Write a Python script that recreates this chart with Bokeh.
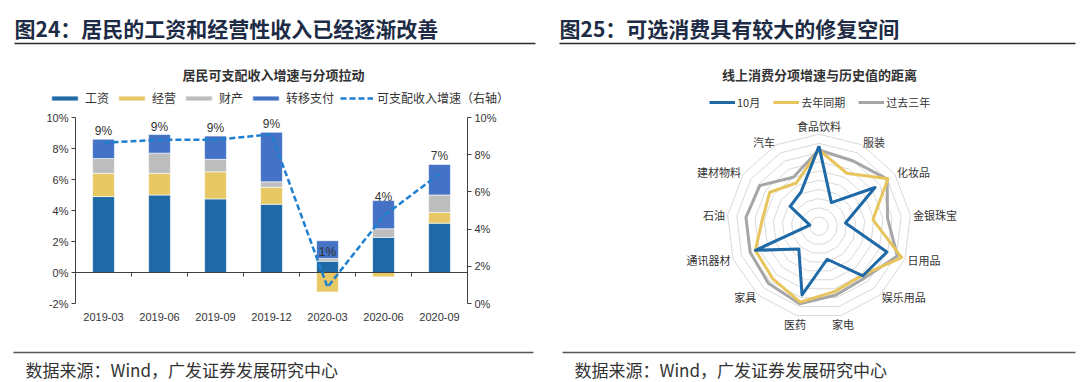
import numpy as np
from bokeh.plotting import figure
from bokeh.models import (ColumnDataSource, Range1d, LinearAxis, FixedTicker, Label,
                          BoxAnnotation, Legend, LegendItem)
from bokeh.layouts import row
from bokeh.embed import file_html
from bokeh.resources import INLINE
from bokeh.core.properties import value

# ---------------- data: figure 24 ----------------
quarters = ["2019-03", "2019-06", "2019-09", "2019-12", "2020-03", "2020-06", "2020-09"]
wages = [4.9, 5.0, 4.75, 4.4, 0.73, 2.27, 3.18]
business = [1.5, 1.4, 1.75, 1.1, -1.26, -0.28, 0.69]
property_income = [0.95, 1.3, 0.8, 0.35, 0.17, 0.55, 1.13]
transfers = [1.25, 1.2, 1.5, 3.2, 1.15, 1.82, 1.97]
income_growth = [8.64, 8.8, 8.8, 9.1, 0.88, 4.7, 6.97]
left_ticks = [-2, 0, 2, 4, 6, 8, 10]
right_ticks = [0, 2, 4, 6, 8, 10]
series_names = ["工资", "经营", "财产", "转移支付"]
line_name = "可支配收入增速（右轴）"

# ---------------- data: figure 25 ----------------
categories = ["食品饮料", "服装", "化妆品", "金银珠宝", "日用品", "娱乐用品", "家电",
              "医药", "家具", "通讯器材", "石油", "建材物料", "汽车"]
oct_values = [8.7, 2.9, 7.4, 2.9, 7.9, 7.2, 3.7, 7.7, 3.3, 7.4, 1.0, 3.8, 4.2]
last_year = [8.3, 6.5, 9.1, 5.9, 9.6, 7.1, 7.3, 8.5, 7.6, 7.4, 6.2, 6.5, 5.3]
past_three = [8.3, 8.0, 9.0, 7.5, 9.1, 7.5, 7.7, 8.7, 8.3, 8.0, 8.0, 7.8, 6.0]
radar_names = ["10月", "去年同期", "过去三年"]
ring_levels = [1, 2, 3, 4, 5, 6, 7, 8, 9, 10]

CJK = "Noto Sans CJK SC"
LAT = "Liberation Sans"
TXT = "#333333"
NAVY = "#1d2b45"
C_W, C_B, C_P, C_T = "#1F69A6", "#E6C865", "#BDBDBD", "#4472C4"
C_LINE = "#1F7FD0"
C_OCT, C_LY, C_3Y = "#1F69A6", "#E8C55C", "#A6A6A6"
W, H = 540, 382


def add_label(p, x, y, text, size, bold=False, color=TXT, align="left"):
    p.add_layout(Label(x=x, y=y, x_units="screen", y_units="screen", text=text, text_font=CJK,
                       text_font_size=size, text_font_style="bold" if bold else "normal",
                       text_color=color, text_baseline="middle", text_align=align))


def add_rule(p, x0, x1, y, color, thick=1.6):
    p.add_layout(BoxAnnotation(left=x0, right=x1, top=y + thick / 2, bottom=y - thick / 2,
                               left_units="screen", right_units="screen", top_units="screen",
                               bottom_units="screen", fill_color=color, fill_alpha=1, line_color=None))


# ================= left figure =================
# page-pixel frame of the bar chart: x 75..467, y(10%)=117, y(-2%)=303
CAT = (467 - 75) / 7.0
LPX = (303 - 117) / 12.0
RPX = (303 - 117) / 10.0

p1 = figure(width=W, height=H, x_range=Range1d(-75 / CAT, (W - 75) / CAT),
            y_range=Range1d(-2 - (H - 303) / LPX, 10 + 117 / LPX),
            output_backend="svg", toolbar_location=None, min_border=0)
p1.outline_line_color = None
p1.grid.visible = False
p1.background_fill_color = None
p1.border_fill_color = "white"

xpos = [i + 0.5 for i in range(len(quarters))]
series = [wages, business, property_income, transfers]
colors = [C_W, C_B, C_P, C_T]
pos = [0.0] * len(quarters)
neg = [0.0] * len(quarters)
bar_renderers = []
for vals, col in zip(series, colors):
    bot, top = [], []
    for i, v in enumerate(vals):
        if v >= 0:
            bot.append(pos[i]); top.append(pos[i] + v); pos[i] += v
        else:
            bot.append(neg[i] + v); top.append(neg[i]); neg[i] += v
    src = ColumnDataSource(dict(x=xpos, bottom=bot, top=top))
    r = p1.vbar(x="x", bottom="bottom", top="top", width=0.39, source=src,
                fill_color=col, line_color="white", line_width=0.6)
    bar_renderers.append(r)

totals = [sum(s[i] for s in series) for i in range(len(quarters))]
lab_src = ColumnDataSource(dict(x=xpos, y=totals, t=["%d%%" % round(t) for t in totals]))
p1.text(x="x", y="y", text="t", source=lab_src, text_align="center", text_baseline="bottom",
        y_offset=-1, text_font=value(LAT), text_font_size="12px", text_color=TXT)

# zero line and category separators
p1.segment(x0=0, y0=0, x1=len(quarters), y1=0, line_color="#404040", line_width=1)
seps = list(range(1, len(quarters)))
p1.segment(x0=seps, y0=[0] * len(seps), x1=seps, y1=[-4 / LPX] * len(seps),
           line_color="#404040", line_width=1)

p1.extra_y_ranges = {"r": Range1d(-(H - 303) / RPX, 10 + 117 / RPX)}
ln = p1.line(x=xpos, y=income_growth, y_range_name="r", line_color=C_LINE,
             line_width=2.5, line_dash="6 3")

ax_l = p1.yaxis[0]
ax_l.fixed_location = 0
ax_l.bounds = (left_ticks[0], left_ticks[-1])
ax_l.ticker = FixedTicker(ticks=left_ticks)
ax_l.major_label_overrides = {t: "%d%%" % t for t in left_ticks}

ax_r = LinearAxis(y_range_name="r", ticker=FixedTicker(ticks=right_ticks), fixed_location=len(quarters),
                  bounds=(right_ticks[0], right_ticks[-1]),
                  major_label_overrides={t: "%d%%" % t for t in right_ticks})
p1.add_layout(ax_r, "right")

for ax in (ax_l, ax_r):
    ax.minor_tick_line_color = None
    ax.major_tick_in = 0
    ax.major_tick_out = 4
    ax.axis_line_color = "#404040"
    ax.major_tick_line_color = "#404040"
    ax.major_label_text_font = LAT
    ax.major_label_text_font_size = "11px"
    ax.major_label_text_color = TXT
    ax.major_label_standoff = 3

xa = p1.xaxis[0]
xa.fixed_location = left_ticks[0]
xa.bounds = (0, len(quarters))
xa.ticker = FixedTicker(ticks=xpos)
xa.major_label_overrides = {x: q for x, q in zip(xpos, quarters)}
xa.axis_line_color = None
xa.major_tick_line_color = None
xa.minor_tick_line_color = None
xa.major_tick_out = 0
xa.major_label_standoff = 9
xa.major_label_text_font = LAT
xa.major_label_text_font_size = "11px"
xa.major_label_text_color = TXT

items = [LegendItem(label=n, renderers=[r]) for n, r in zip(series_names, bar_renderers)]
items.append(LegendItem(label=line_name, renderers=[ln]))
leg1 = Legend(items=items, orientation="horizontal", location=(48, H - 106), glyph_width=33,
              glyph_height=6, label_standoff=4, spacing=6, padding=0, margin=0,
              label_height=14, label_text_font=CJK, label_text_font_size="12px",
              label_text_color=TXT, background_fill_alpha=0, border_line_alpha=0)
p1.add_layout(leg1, "center")

add_label(p1, 14, H - 27, "图24：居民的工资和经营性收入已经逐渐改善", "21px", bold=True, color=NAVY)
add_label(p1, 273, H - 74, "居民可支配收入增速与分项拉动", "13px", bold=True, align="center")
add_label(p1, 25, H - 369, "数据来源：Wind，广发证券发展研究中心", "17px")
add_rule(p1, 14, 535, H - 43, "#2b2b2b")
add_rule(p1, 13, 533, H - 352, "#555555")

# ================= right figure =================
U = 9.2  # px per radar unit
CX, CY = 818.5 - 540, 225.7  # centre in canvas px (from top-left)

p2 = figure(width=W, height=H, x_range=Range1d(-CX / U, (W - CX) / U),
            y_range=Range1d(-(H - CY) / U, CY / U), output_backend="svg", toolbar_location=None,
            min_border=0, x_axis_location=None, y_axis_location=None)
p2.outline_line_color = None
p2.grid.visible = False
p2.background_fill_color = None
p2.border_fill_color = "white"

n = len(categories)
theta = np.arange(n) * 2 * np.pi / n
th_c = np.append(theta, 0)
ring_xs = [list(k * np.sin(th_c)) for k in ring_levels]
ring_ys = [list(k * np.cos(th_c)) for k in ring_levels]
p2.multi_line(xs=ring_xs, ys=ring_ys, line_color="#D9D9D9", line_width=1)

rr = {}
all_vals = [oct_values, last_year, past_three]
all_cols = [C_OCT, C_LY, C_3Y]
for i in [2, 1, 0]:
    v = np.array(all_vals[i] + all_vals[i][:1])
    rr[i] = p2.line(x=list(v * np.sin(th_c)), y=list(v * np.cos(th_c)), line_color=all_cols[i],
                    line_width=3, line_join="round")

groups = {"left": [], "right": [], "center": []}
for i, c in enumerate(categories):
    s, co = np.sin(theta[i]), np.cos(theta[i])
    if s > 0.3:
        groups["left"].append((c, 10.3 * s, 10.3 * co))
    elif s < -0.3:
        groups["right"].append((c, 10.3 * s, 10.3 * co))
    else:
        groups["center"].append((c, 10.9 * s, 10.9 * co))
for al, g in groups.items():
    if not g:
        continue
    src = ColumnDataSource(dict(t=[a[0] for a in g], x=[a[1] for a in g], y=[a[2] for a in g]))
    p2.text(x="x", y="y", text="t", source=src, text_align=al, text_baseline="middle",
            text_font=value(CJK), text_font_size="11px", text_color=TXT)

leg2 = Legend(items=[LegendItem(label=radar_names[i], renderers=[rr[i]]) for i in range(3)],
              orientation="horizontal", location=(709 - 540, H - 110), glyph_width=26, glyph_height=14,
              label_standoff=2, spacing=13, padding=0, margin=0, label_height=14,
              label_text_font=CJK, label_text_font_size="11px", label_text_color=TXT,
              background_fill_alpha=0, border_line_alpha=0)
p2.add_layout(leg2, "center")

add_label(p2, 559 - 540, H - 27, "图25：可选消费具有较大的修复空间", "21px", bold=True, color=NAVY)
add_label(p2, 819 - 540, H - 74, "线上消费分项增速与历史值的距离", "13px", bold=True, align="center")
add_label(p2, 574 - 540, H - 369, "数据来源：Wind，广发证券发展研究中心", "17px")
add_rule(p2, 559 - 540, 1075 - 540, H - 43, "#2b2b2b")
add_rule(p2, 562 - 540, 1075 - 540, H - 352, "#555555")

layout = row(p1, p2)
open("out.html", "w").write(file_html(layout, INLINE))
